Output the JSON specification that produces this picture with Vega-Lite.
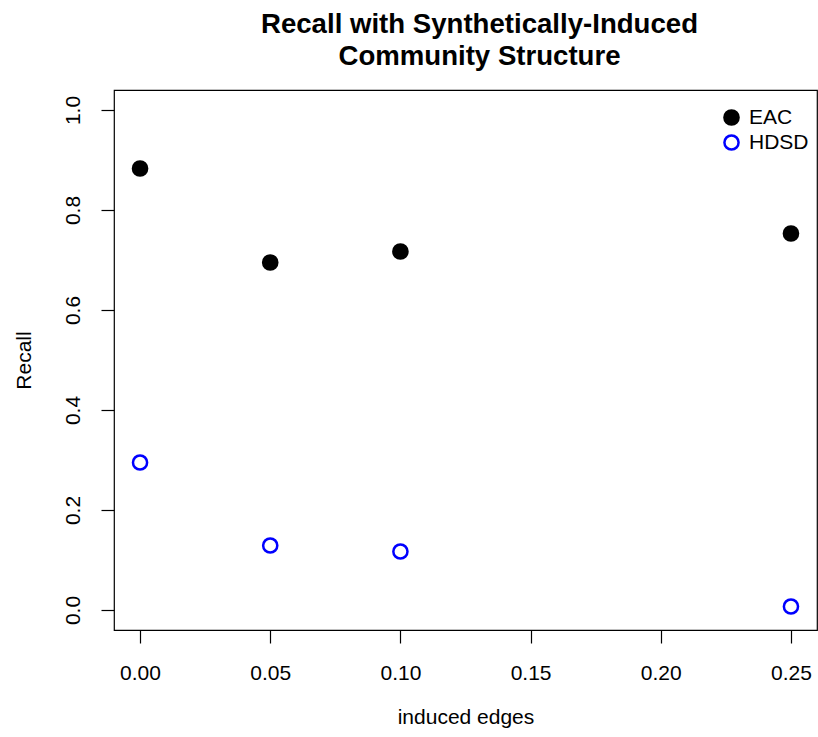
{
  "$schema": "https://vega.github.io/schema/vega-lite/v6.json",
  "width": 703,
  "height": 540,
  "autosize": "none",
  "padding": {"left": 114, "top": 90, "right": 1, "bottom": 107},
  "background": "white",
  "config": {
    "font": "Liberation Sans",
    "view": {"stroke": "black", "strokeWidth": 1.2}
  },
  "title": {
    "text": ["Recall with Synthetically-Induced", "Community Structure"],
    "fontSize": 27.6,
    "fontWeight": "bold",
    "font": "Liberation Sans",
    "color": "black",
    "anchor": "middle",
    "frame": "group",
    "lineHeight": 32,
    "offset": 19,
    "dx": 14
  },
  "data": {
    "values": [
      {"edges": 0.0, "recall": 0.883, "series": "EAC"},
      {"edges": 0.05, "recall": 0.695, "series": "EAC"},
      {"edges": 0.1, "recall": 0.717, "series": "EAC"},
      {"edges": 0.25, "recall": 0.753, "series": "EAC"},
      {"edges": 0.0, "recall": 0.295, "series": "HDSD"},
      {"edges": 0.05, "recall": 0.129, "series": "HDSD"},
      {"edges": 0.1, "recall": 0.117, "series": "HDSD"},
      {"edges": 0.25, "recall": 0.007, "series": "HDSD"}
    ]
  },
  "mark": {"type": "point", "shape": "circle", "size": 200, "strokeWidth": 2.5, "opacity": 1},
  "encoding": {
    "x": {
      "field": "edges",
      "type": "quantitative",
      "scale": {"domain": [-0.01, 0.26], "nice": false, "zero": false},
      "axis": {
        "title": "induced edges",
        "titleFontSize": 21,
        "titleFontWeight": "normal",
        "titleColor": "black",
        "titlePadding": 23,
        "values": [0, 0.05, 0.1, 0.15, 0.2, 0.25],
        "format": ".2f",
        "labelFontSize": 21,
        "labelColor": "black",
        "labelPadding": 19,
        "tickSize": 13,
        "tickColor": "black",
        "tickWidth": 1.2,
        "domain": false,
        "grid": false
      }
    },
    "y": {
      "field": "recall",
      "type": "quantitative",
      "scale": {"domain": [-0.04, 1.04], "nice": false, "zero": false},
      "axis": {
        "title": "Recall",
        "titleFontSize": 21,
        "titleFontWeight": "normal",
        "titleColor": "black",
        "titlePadding": 28,
        "values": [0, 0.2, 0.4, 0.6, 0.8, 1.0],
        "format": ".1f",
        "labelFontSize": 21,
        "labelColor": "black",
        "labelAngle": -90,
        "labelAlign": "center",
        "labelBaseline": "bottom",
        "labelPadding": 18,
        "tickSize": 13,
        "tickColor": "black",
        "tickWidth": 1.2,
        "domain": false,
        "grid": false
      }
    },
    "fill": {
      "field": "series",
      "type": "nominal",
      "scale": {"domain": ["EAC", "HDSD"], "range": ["black", "white"]},
      "legend": {
        "title": null,
        "orient": "none",
        "legendX": 607,
        "legendY": 17,
        "padding": 0,
        "labelFontSize": 21,
        "labelColor": "black",
        "labelOffset": 7,
        "symbolSize": 200,
        "symbolStrokeWidth": 2.5,
        "symbolType": "circle",
        "rowPadding": 0
      }
    },
    "stroke": {
      "field": "series",
      "type": "nominal",
      "scale": {"domain": ["EAC", "HDSD"], "range": ["black", "blue"]},
      "legend": {
        "title": null,
        "orient": "none",
        "legendX": 607,
        "legendY": 17,
        "padding": 0,
        "labelFontSize": 21,
        "labelColor": "black",
        "labelOffset": 7,
        "symbolSize": 200,
        "symbolStrokeWidth": 2.5,
        "symbolType": "circle",
        "rowPadding": 0
      }
    }
  }
}
